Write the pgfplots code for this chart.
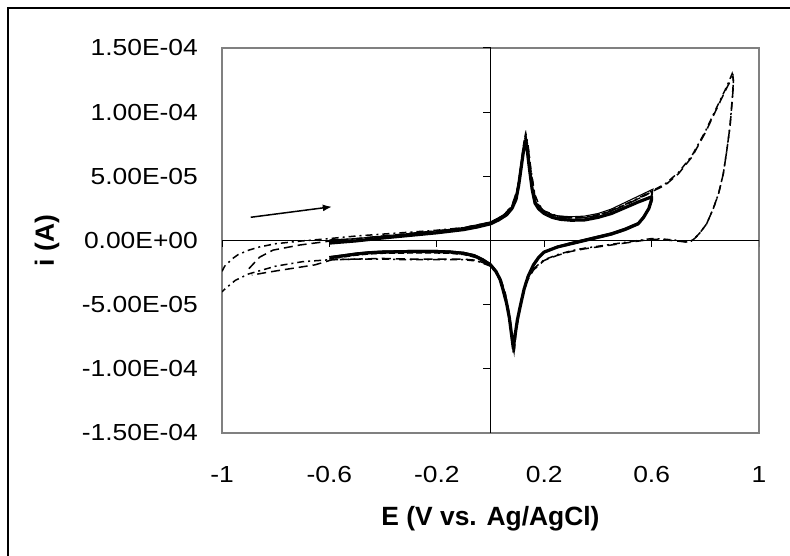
\documentclass[border=0pt]{standalone}
\usepackage{pgfplots}
\pgfplotsset{compat=1.18}
\usepackage{fontspec}
\setmainfont{Liberation Sans}
\usetikzlibrary{arrows.meta}
\definecolor{boxgray}{RGB}{128,128,128}
\newcommand{\T}[1]{\scalebox{1}[0.88]{\fontsize{26.5}{30}\selectfont #1}}
\begin{document}
\begin{tikzpicture}
\path[use as bounding box] (0,0) rectangle (790bp,556bp);
\draw[line width=2bp] (8bp,-2bp) -- (8bp,548bp) -- (792bp,548bp);
\begin{axis}[
  scale only axis,
  at={(222bp,123bp)}, anchor=south west,
  width=537bp, height=385bp,
  xmin=-1, xmax=1, ymin=-1.5e-4, ymax=1.5e-4,
  axis line style={draw=boxgray, line width=1.4bp},
  major tick length=0pt,
  xtick={-1,-0.6,-0.2,0.2,0.6,1},
  xticklabels={\T{-1},\T{-0.6},\T{-0.2},\T{0.2},\T{0.6},\T{1}},
  ytick={-1.5e-4,-1e-4,-5e-5,0,5e-5,1e-4,1.5e-4},
  yticklabels={\T{-1.50E-04},\T{-1.00E-04},\T{-5.00E-05},\T{0.00E+00},\T{5.00E-05},\T{1.00E-04},\T{1.50E-04}},
  scaled y ticks=false, scaled x ticks=false,
  yticklabel style={anchor=east, inner sep=0pt, xshift=-24bp},
  xticklabel style={anchor=base, inner sep=0pt, yshift=-49bp},
  xlabel={\bfseries E (V vs. Ag/AgCl)},
  ylabel={\bfseries i (A)},
  label style={font=\fontsize{26.5}{30}\selectfont},
  xlabel style={at={(axis description cs:0.5,-0.239)}, anchor=base, inner sep=0pt},
  ylabel style={at={(axis description cs:-0.326,0.5)}, anchor=center, inner sep=0pt},
]
% zero axes with Excel-style ticks
\draw[black, line width=1bp] (axis cs:-1,0) -- (axis cs:1,0);
\draw[black, line width=1bp] (axis cs:0,-1.5e-4) -- (axis cs:0,1.5e-4);
\pgfplotsinvokeforeach{-1,-0.6,-0.2,0.2,0.6,1}{\draw[black, line width=1bp] (axis cs:#1,0) -- ++(0bp,-7bp);}
\pgfplotsinvokeforeach{-1.5e-4,-1e-4,-5e-5,5e-5,1e-4,1.5e-4}{\draw[black, line width=1bp] (axis cs:0,#1) -- ++(-8bp,0bp);}

% wide scan, dash-dot
\addplot[black, line width=1.5bp, dash pattern=on 7bp off 4bp on 2bp off 4bp] coordinates {
(-1.0,-2.4e-5)(-0.99,-2.0e-5)(-0.96,-1.4e-5)(-0.94,-1.1e-5)(-0.9,-7.5e-6)(-0.86,-5.0e-6)(-0.8,-2.5e-6)(-0.7,-0.3e-6)(-0.6,1.5e-6)(-0.5,3.5e-6)(-0.4,5.0e-6)(-0.3,6.5e-6)(-0.2,8.0e-6)(-0.1,1.0e-5)(0,1.4e-5)(0.05,2.0e-5)(0.08,2.7e-5)(0.1,4.0e-5)(0.115,6.0e-5)(0.125,7.6e-5)(0.132,8.3e-5)(0.14,7.4e-5)(0.15,5.6e-5)(0.165,3.6e-5)(0.18,2.8e-5)(0.2,2.3e-5)(0.25,1.9e-5)(0.3,1.8e-5)(0.35,1.85e-5)(0.4,2.0e-5)(0.45,2.35e-5)(0.5,2.8e-5)(0.55,3.3e-5)(0.6,3.85e-5)(0.65,4.4e-5)(0.7,5.3e-5)(0.75,6.6e-5)(0.8,8.5e-5)(0.85,1.07e-4)(0.88,1.2e-4)(0.9,1.3e-4)
(0.905,1.25e-4)(0.9,1.1e-4)(0.892,8.9e-5)(0.88,7.0e-5)(0.867,5.2e-5)(0.85,3.7e-5)(0.83,2.5e-5)(0.805,1.3e-5)(0.78,6e-6)(0.76,1.5e-6)(0.74,-1.5e-6)(0.7,0)(0.65,1.0e-6)(0.6,1.5e-6)(0.55,0)(0.5,-1.5e-6)(0.45,-3e-6)(0.4,-4.5e-6)(0.35,-6e-6)(0.3,-8e-6)(0.25,-1.1e-5)(0.2,-1.5e-5)(0.16,-2.2e-5)(0.13,-3.3e-5)(0.11,-5e-5)(0.095,-7e-5)(0.088,-8.8e-5)(0.08,-7.4e-5)(0.07,-5.8e-5)(0.055,-4.2e-5)(0.04,-3.2e-5)(0.02,-2.5e-5)(0,-2.0e-5)(-0.05,-1.6e-5)(-0.1,-1.5e-5)(-0.2,-1.5e-5)(-0.3,-1.5e-5)(-0.4,-1.45e-5)(-0.5,-1.45e-5)(-0.6,-1.5e-5)(-0.7,-1.65e-5)(-0.8,-2.0e-5)(-0.85,-2.3e-5)(-0.9,-2.6e-5)(-0.95,-3.1e-5)(-0.985,-3.7e-5)(-1.0,-4.0e-5)
};
% wide scan, dashed
\addplot[black, line width=1.5bp, dash pattern=on 9bp off 5bp] coordinates {
(-0.9,-2.2e-5)(-0.88,-1.75e-5)(-0.86,-1.3e-5)(-0.81,-7.5e-6)(-0.71,-3.5e-6)(-0.6,-0.5e-6)(-0.5,1.5e-6)(-0.4,3.5e-6)(-0.3,5.5e-6)(-0.2,7.5e-6)(-0.1,1.0e-5)(0,1.4e-5)(0.05,2.0e-5)(0.08,2.7e-5)(0.1,4.0e-5)(0.115,6.0e-5)(0.125,7.6e-5)(0.131,8.2e-5)(0.14,7.3e-5)(0.15,5.5e-5)(0.165,3.5e-5)(0.18,2.75e-5)(0.2,2.25e-5)(0.25,1.85e-5)(0.3,1.75e-5)(0.35,1.8e-5)(0.4,1.95e-5)(0.45,2.3e-5)(0.5,2.75e-5)(0.55,3.25e-5)(0.6,3.8e-5)(0.65,4.3e-5)(0.7,5.2e-5)(0.75,6.5e-5)(0.8,8.4e-5)(0.85,1.06e-4)(0.88,1.19e-4)(0.903,1.28e-4)
(0.905,1.22e-4)(0.9,1.08e-4)(0.892,8.9e-5)(0.88,7.0e-5)(0.867,5.2e-5)(0.85,3.7e-5)(0.83,2.5e-5)(0.805,1.3e-5)(0.78,6e-6)(0.76,1.5e-6)(0.74,-1.5e-6)(0.7,-0.5e-6)(0.65,0.5e-6)(0.6,1.0e-6)(0.55,-0.5e-6)(0.5,-2e-6)(0.45,-3.5e-6)(0.4,-5e-6)(0.35,-6.5e-6)(0.3,-8.5e-6)(0.25,-1.15e-5)(0.2,-1.55e-5)(0.16,-2.3e-5)(0.13,-3.4e-5)(0.11,-5.1e-5)(0.095,-7.2e-5)(0.088,-8.6e-5)(0.08,-7.3e-5)(0.07,-5.7e-5)(0.055,-4.1e-5)(0.04,-3.1e-5)(0.02,-2.4e-5)(0,-1.95e-5)(-0.05,-1.55e-5)(-0.1,-1.45e-5)(-0.2,-1.45e-5)(-0.3,-1.45e-5)(-0.4,-1.4e-5)(-0.5,-1.45e-5)(-0.59,-1.5e-5)(-0.654,-1.9e-5)(-0.778,-2.3e-5)(-0.85,-2.55e-5)(-0.889,-2.7e-5)
};
% small window, thin solid
\addplot[black, line width=1.1bp] coordinates {
(-0.6,0.5e-6)(-0.5,1.5e-6)(-0.4,3.5e-6)(-0.3,5.5e-6)(-0.2,7.5e-6)(-0.1,1.0e-5)(0,1.45e-5)(0.03,1.75e-5)(0.06,2.15e-5)(0.08,2.65e-5)(0.095,3.4e-5)(0.105,4.5e-5)(0.115,6.0e-5)(0.123,7.2e-5)(0.13,7.9e-5)(0.137,7.2e-5)(0.145,5.8e-5)(0.155,4.2e-5)(0.166,3.1e-5)(0.18,2.65e-5)(0.2,2.3e-5)(0.23,2.0e-5)(0.26,1.9e-5)(0.3,1.85e-5)(0.35,1.9e-5)(0.4,2.1e-5)(0.45,2.45e-5)(0.5,2.95e-5)(0.55,3.45e-5)(0.605,4.0e-5)
(0.6,3.2e-5)(0.59,2.6e-5)(0.57,1.9e-5)(0.55,1.4e-5)(0.5,9.5e-6)(0.45,6e-6)(0.4,3.5e-6)(0.35,1e-6)(0.3,-1.5e-6)(0.25,-4.5e-6)(0.2,-8.5e-6)(0.18,-1.25e-5)(0.16,-1.85e-5)(0.14,-2.75e-5)(0.125,-3.75e-5)(0.11,-5.1e-5)(0.1,-6.1e-5)(0.09,-7.5e-5)(0.086,-8.2e-5)(0.08,-7.5e-5)(0.07,-5.9e-5)(0.06,-4.8e-5)(0.045,-3.6e-5)(0.035,-2.9e-5)(0.02,-2.3e-5)(0,-1.8e-5)(-0.03,-1.4e-5)(-0.06,-1.1e-5)(-0.1,-9.2e-6)(-0.15,-8.2e-6)(-0.2,-7.8e-6)(-0.3,-7.8e-6)(-0.4,-8.2e-6)(-0.45,-8.8e-6)(-0.5,-9.8e-6)(-0.55,-1.12e-5)(-0.6,-1.25e-5)
};
% small window, dashed
\addplot[black, line width=1.3bp, dash pattern=on 6bp off 3bp] coordinates {
(-0.6,-1.0e-6)(-0.5,0.8e-6)(-0.4,2.8e-6)(-0.3,4.8e-6)(-0.2,6.8e-6)(-0.1,9.3e-6)(0,1.38e-5)(0.03,1.7e-5)(0.06,2.1e-5)(0.08,2.6e-5)(0.095,3.3e-5)(0.105,4.5e-5)(0.115,6.1e-5)(0.123,7.5e-5)(0.13,8.3e-5)(0.137,7.4e-5)(0.145,5.9e-5)(0.155,4.2e-5)(0.166,3.05e-5)(0.18,2.6e-5)(0.2,2.25e-5)(0.23,1.95e-5)(0.26,1.8e-5)(0.3,1.75e-5)(0.35,1.78e-5)(0.4,1.98e-5)(0.45,2.3e-5)(0.5,2.78e-5)(0.55,3.25e-5)(0.6,3.75e-5)
(0.6,3.0e-5)(0.59,2.45e-5)(0.57,1.75e-5)(0.55,1.25e-5)(0.5,8e-6)(0.45,4.5e-6)(0.4,2e-6)(0.35,-0.5e-6)(0.3,-3e-6)(0.25,-5.5e-6)(0.2,-9.5e-6)(0.18,-1.35e-5)(0.16,-2.0e-5)(0.14,-2.9e-5)(0.125,-3.9e-5)(0.11,-5.3e-5)(0.1,-6.4e-5)(0.09,-7.8e-5)(0.085,-8.8e-5)(0.08,-7.8e-5)(0.07,-6.1e-5)(0.06,-5.0e-5)(0.045,-3.8e-5)(0.035,-3.1e-5)(0.02,-2.5e-5)(0,-2.0e-5)(-0.03,-1.6e-5)(-0.06,-1.3e-5)(-0.1,-1.1e-5)(-0.15,-1.0e-5)(-0.2,-9.8e-6)(-0.3,-9.8e-6)(-0.4,-1.0e-5)(-0.45,-1.05e-5)(-0.5,-1.15e-5)(-0.55,-1.3e-5)(-0.6,-1.45e-5)
};
% small window, thick solid
\addplot[black, line width=3.2bp, line join=round] coordinates {
(-0.6,-2.0e-6)(-0.5,-0.3e-6)(-0.4,2.0e-6)(-0.3,4.0e-6)(-0.2,6.0e-6)(-0.1,8.5e-6)(-0.05,1.05e-5)(0,1.3e-5)(0.03,1.6e-5)(0.06,2.0e-5)(0.08,2.5e-5)(0.095,3.2e-5)(0.105,4.3e-5)(0.115,5.8e-5)(0.123,7.0e-5)(0.13,7.7e-5)(0.137,7.0e-5)(0.145,5.6e-5)(0.155,4.0e-5)(0.166,2.9e-5)(0.18,2.45e-5)(0.2,2.1e-5)(0.23,1.8e-5)(0.26,1.65e-5)(0.3,1.58e-5)(0.35,1.6e-5)(0.4,1.8e-5)(0.45,2.1e-5)(0.5,2.55e-5)(0.55,3.0e-5)(0.6,3.4e-5)
(0.6,3.2e-5)(0.59,2.5e-5)(0.57,1.8e-5)(0.55,1.3e-5)(0.5,8.5e-6)(0.45,5e-6)(0.4,2.5e-6)(0.35,0)(0.3,-2.5e-6)(0.25,-5.0e-6)(0.2,-9.0e-6)(0.18,-1.3e-5)(0.16,-1.9e-5)(0.14,-2.8e-5)(0.125,-3.8e-5)(0.11,-5.2e-5)(0.1,-6.2e-5)(0.09,-7.6e-5)(0.085,-8.4e-5)(0.08,-7.6e-5)(0.07,-6.0e-5)(0.06,-4.9e-5)(0.045,-3.7e-5)(0.035,-3.0e-5)(0.02,-2.4e-5)(0,-1.9e-5)(-0.03,-1.5e-5)(-0.06,-1.2e-5)(-0.1,-1.0e-5)(-0.15,-9.0e-6)(-0.2,-8.6e-6)(-0.3,-8.6e-6)(-0.4,-9.0e-6)(-0.45,-9.5e-6)(-0.5,-1.05e-5)(-0.55,-1.2e-5)(-0.6,-1.35e-5)
};
% scan direction arrow
\draw[black, line width=1.5bp, -{Latex[length=9bp,width=7bp]}] (axis cs:-0.893,1.81e-5) -- (axis cs:-0.591,2.63e-5);
\end{axis}
\end{tikzpicture}
\end{document}
